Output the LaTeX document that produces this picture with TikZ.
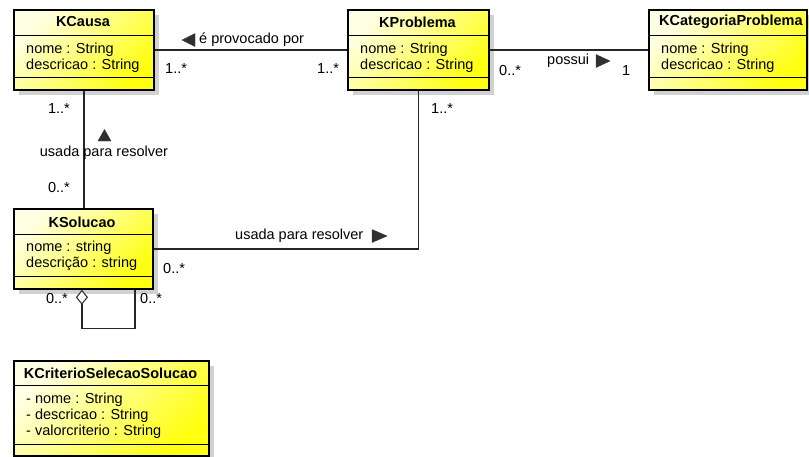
\documentclass[tikz,border=0pt]{standalone}
\usepackage{fontspec}
\setmainfont{Liberation Sans}
\usetikzlibrary{shadows,calc,arrows.meta}
\definecolor{ylight}{HTML}{FFFFE4}
\definecolor{ydark}{HTML}{FFFF10}
\definecolor{tri}{HTML}{303030}
\begin{document}
\begin{tikzpicture}[x=1pt,y=-1pt,
  font=\fontsize{14.5}{16}\selectfont,
  cls/.style={draw=black, line width=1.8pt, top color=ylight, bottom color=ydark, shading angle=45,
    anchor=north west, inner sep=0pt,
    drop shadow={shadow xshift=5pt, shadow yshift=-5pt, fill=black!18, opacity=1}},
  sep/.style={line width=1pt, draw=black},
  title/.style={font=\fontsize{14.5}{16}\selectfont\bfseries, inner sep=0pt},
  attr/.style={anchor=west, inner sep=0pt, text height=10.5pt, text depth=3pt},
  mult/.style={anchor=west, inner sep=0pt, text height=10.5pt, text depth=3pt},
  conn/.style={line width=1.2pt, draw=black!85},
  tmark/.style={fill=tri, draw=tri, line width=0.4pt, line join=round}]
\useasboundingbox (0,0) rectangle (809,456);

% ---------- KCausa ----------
\node[cls, minimum width=140pt, minimum height=80pt] (kcausa) at (13,9) {};
\draw[sep] (13,35) -- (153,35);
\draw[sep] (13,77) -- (153,77);
\node[title] (kcausaT) at (83,22) {KCausa};
\node[attr] (kcausaA1) at (26,50) {nome : String};
\node[attr] (kcausaA2) at (26,66) {descricao : String};

% ---------- KProblema ----------
\node[cls, minimum width=141pt, minimum height=80pt] (kproblema) at (347,9) {};
\draw[sep] (347,35) -- (488,35);
\draw[sep] (347,77) -- (488,77);
\node[title] (kproblemaT) at (417.5,22) {KProblema};
\node[attr] (kproblemaA1) at (360,50) {nome : String};
\node[attr] (kproblemaA2) at (360,66) {descricao : String};

% ---------- KCategoriaProblema ----------
\node[cls, minimum width=158pt, minimum height=80pt] (kcategoria) at (648,9) {};
\draw[sep] (648,35) -- (806,35);
\draw[sep] (648,77) -- (806,77);
\node[title, anchor=west] (kcategoriaT) at (659,22) {KCategoriaProblema};
\node[attr] (kcategoriaA1) at (661,50) {nome : String};
\node[attr] (kcategoriaA2) at (661,66) {descricao : String};

% ---------- KSolucao ----------
\node[cls, minimum width=139pt, minimum height=80pt] (ksolucao) at (13,208) {};
\draw[sep] (13,234) -- (152,234);
\draw[sep] (13,276) -- (152,276);
\node[title] (ksolucaoT) at (82,222) {KSolucao};
\node[attr] (ksolucaoA1) at (26,248) {nome : string};
\node[attr] (ksolucaoA2) at (26,264) {descrição : string};

% ---------- KCriterioSelecaoSolucao ----------
\node[cls, minimum width=195pt, minimum height=95pt] (kcriterio) at (13,360) {};
\draw[sep] (13,385) -- (208,385);
\draw[sep] (13,444) -- (208,444);
\node[title] (kcriterioT) at (110.5,373) {KCriterioSelecaoSolucao};
\node[attr] (kcriterioA1) at (26,400) {- nome : String};
\node[attr] (kcriterioA2) at (26,416) {- descricao : String};
\node[attr] (kcriterioA3) at (26,432) {- valorcriterio : String};

% ---------- KCausa -- KProblema ----------
\draw[conn] (kcausa.east) -- (kproblema.west);
\fill[tmark] (182,40) -- (195,33.5) -- (195,46.5) -- cycle;
\node[mult] (lblProv) at (199,40) {é provocado por};
\node[mult] (m1) at (165,70) {1..*};
\node[mult] (m2) at (317,70) {1..*};

% ---------- KProblema -- KCategoriaProblema ----------
\draw[conn] (kproblema.east) -- (kcategoria.west);
\node[mult] (lblPossui) at (547,61) {possui};
\fill[tmark] (610,61) -- (596,54.5) -- (596,67.5) -- cycle;
\node[mult] (m3) at (499,72) {0..*};
\node[mult] (m4) at (622,72) {1};

% ---------- KCausa -- KSolucao ----------
\draw[conn] (kcausa.south) -- (kcausa.south |- ksolucao.north);
\node[mult, anchor=east] (m5) at (70,110) {1..*};
\fill[tmark] (104.5,129.5) -- (98,141) -- (111,141) -- cycle;
\node[inner sep=0pt, text height=10.5pt, text depth=3pt] (lblUsada1) at (104,153) {usada para resolver};
\node[mult, anchor=east] (m6) at (70,189) {0..*};

% ---------- KProblema -- KSolucao ----------
\draw[conn] (kproblema.south) |- (ksolucao.east);
\node[mult] (m7) at (431,110) {1..*};
\node[mult] (lblUsada2) at (235,236) {usada para resolver};
\fill[tmark] (387,236) -- (372,229.5) -- (372,242.5) -- cycle;
\node[mult] (m8) at (163,270) {0..*};

% ---------- KSolucao self aggregation ----------
\draw[conn, {Diamond[open, fill=white, length=15pt, width=12pt, line width=1pt]}-]
  ($(ksolucao.south)+(-1.5,0)$) -- ($(ksolucao.south)+(-1.5,39)$)
  -- ($(ksolucao.south)+(51.5,39)$) -- ($(ksolucao.south)+(51.5,0)$);
\node[mult, anchor=east] (m9) at (68,300) {0..*};
\node[mult] (m10) at (140,300) {0..*};
\end{tikzpicture}
\end{document}
